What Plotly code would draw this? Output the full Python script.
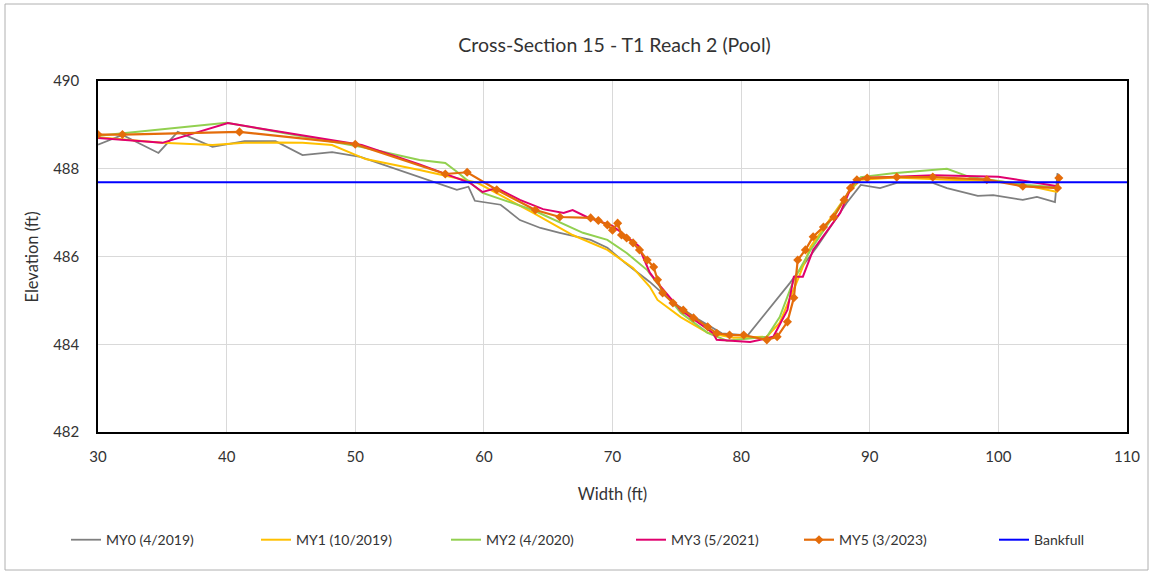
import plotly.graph_objects as go

# ---------------- data ----------------
my0_x = [30, 31.9, 34.7, 36.2, 38.9, 41.4, 43.8, 45.9, 48.2, 50.4, 57.9, 58.8, 59.3, 61.3, 62.8,
         64.4, 65.9, 68.3, 69.6, 71.0, 72.9, 74.5, 76.5, 78.5, 80.5, 83.8, 85.9, 88.2, 89.3, 90.8,
         92.1, 94.9, 96.0, 98.4, 99.6, 101.9, 103.0, 104.4, 104.6]
my0_y = [488.55, 488.77, 488.36, 488.84, 488.50, 488.63, 488.63, 488.31, 488.38, 488.27, 487.52, 487.59,
         487.27, 487.18, 486.83, 486.65, 486.54, 486.38, 486.20, 485.85, 485.42, 485.00, 484.60, 484.25,
         484.20, 485.40, 486.22, 487.22, 487.63, 487.56, 487.68, 487.68, 487.56, 487.38, 487.40, 487.29,
         487.36, 487.24, 487.90]

my1_x = [30, 35, 38.9, 41.4, 43.8, 45.9, 48.2, 50.8, 55, 59.5, 63.8, 66.9, 69.6, 71.6, 72.9, 73.5,
         75.3, 77.4, 79.4, 82.0, 83.0, 84.4, 85.4, 87.2, 88.5, 89.3, 92, 96, 100, 102.5, 104.6]
my1_y = [488.72, 488.59, 488.54, 488.59, 488.60, 488.59, 488.54, 488.22, 487.97, 487.68, 487.00, 486.49,
         486.15, 485.74, 485.31, 485.01, 484.62, 484.26, 484.15, 484.17, 484.49, 485.47, 486.22, 486.99,
         487.52, 487.75, 487.80, 487.75, 487.72, 487.60, 487.47]

my2_x = [30, 40, 50.4, 55, 57.0, 57.9, 59.9, 63.8, 67.7, 69.6, 71.1, 72.7, 73.7, 75.3, 77.4, 78.9,
         82.0, 83.0, 84.1, 85.4, 87.0, 88.5, 89.3, 91.8, 96.0, 97.8, 99.6, 102.2, 104.6]
my2_y = [488.75, 489.05, 488.50, 488.20, 488.13, 487.93, 487.45, 487.06, 486.54, 486.38, 486.08, 485.69,
         485.31, 484.72, 484.26, 484.08, 484.17, 484.62, 485.47, 486.15, 486.85, 487.52, 487.81, 487.90,
         488.00, 487.81, 487.74, 487.63, 487.58]

my3_x = [30, 35, 40.1, 50.5, 55, 58.9, 59.9, 61.0, 62.8, 64.6, 66.2, 66.9, 68.0, 70.0, 72.0, 72.9,
         73.5, 75.3, 77.8, 78.1, 80.7, 82.5, 83.6, 84.1, 84.8, 85.6, 87.7, 88.7, 89.5, 95, 100, 104.6]
my3_y = [488.70, 488.59, 489.04, 488.54, 488.10, 487.68, 487.47, 487.56, 487.29, 487.08, 486.99, 487.06,
         486.90, 486.70, 486.25, 485.63, 485.40, 484.78, 484.26, 484.10, 484.05, 484.17, 484.78, 485.54,
         485.54, 486.15, 486.99, 487.68, 487.79, 487.85, 487.82, 487.60]

my5_x = [30, 31.9, 41, 50, 57, 58.7, 61, 64, 65.9, 68.3, 68.9, 69.6, 70.0, 70.4, 70.7, 71.1, 71.6,
         72.1, 72.7, 73.2, 73.5, 73.9, 74.7, 75.5, 76.3, 77.4, 78.1, 79.1, 80.2, 82.0, 82.8, 83.6,
         84.1, 84.4, 85.0, 85.6, 86.4, 87.2, 88.0, 88.5, 89.0, 89.8, 92.1, 94.9, 99.1, 101.9, 104.6,
         104.7]
my5_y = [488.78, 488.78, 488.84, 488.56, 487.88, 487.92, 487.52, 487.06, 486.90, 486.88, 486.82, 486.72,
         486.60, 486.76, 486.49, 486.42, 486.31, 486.15, 485.92, 485.76, 485.47, 485.17, 484.94, 484.78,
         484.60, 484.40, 484.25, 484.21, 484.21, 484.10, 484.17, 484.51, 485.06, 485.92, 486.15, 486.45,
         486.67, 486.90, 487.29, 487.56, 487.75, 487.79, 487.81, 487.81, 487.75, 487.60, 487.56, 487.79]

bankfull_x = [30, 110]
bankfull_y = [487.69, 487.69]

names = ["MY0 (4/2019)", "MY1 (10/2019)", "MY2 (4/2020)", "MY3 (5/2021)", "MY5 (3/2023)", "Bankfull"]
colors = ["#7f7f7f", "#ffc000", "#92d050", "#e0006e", "#e46c0a", "#0000ff"]

x_ticks = [30, 40, 50, 60, 70, 80, 90, 100, 110]
y_ticks = [482, 484, 486, 488, 490]

FONT = "Lato, Open Sans, sans-serif"
W, H = 1153, 573

# one legend per entry so that each entry sits where the reference puts it
legend_ids = ["legend", "legend2", "legend3", "legend4", "legend5", "legend6"]
legend_px = [66, 256, 446, 631, 799, 994]

fig = go.Figure()
series = [(my0_x, my0_y), (my1_x, my1_y), (my2_x, my2_y), (my3_x, my3_y)]
widths = [1.8, 2, 2, 2]
for i, ((xs, ys), n, c, w) in enumerate(zip(series, names[:4], colors[:4], widths)):
    fig.add_trace(go.Scatter(x=xs, y=ys, name=n, mode="lines", legend=legend_ids[i],
                             line=dict(color=c, width=w)))
fig.add_trace(go.Scatter(x=my5_x, y=my5_y, name=names[4], mode="lines+markers", legend=legend_ids[4],
                         line=dict(color=colors[4], width=2.2),
                         marker=dict(symbol="diamond", size=7, color=colors[4])))
fig.add_trace(go.Scatter(x=bankfull_x, y=bankfull_y, name=names[5], mode="lines", legend=legend_ids[5],
                         line=dict(color=colors[5], width=2)))

legend_common = dict(orientation="h", xref="container", xanchor="left",
                     y=-0.308, yanchor="middle", font=dict(size=14, color="#333333"),
                     itemwidth=30, bgcolor="rgba(0,0,0,0)")
legend_layout = {lid: dict(legend_common, x=px / W) for lid, px in zip(legend_ids, legend_px)}

fig.update_layout(
    width=W, height=H,
    margin=dict(l=98, r=26, t=81, b=141, autoexpand=False),
    paper_bgcolor="white", plot_bgcolor="white",
    font=dict(family=FONT, size=15, color="#333333"),
    title=dict(text="Cross-Section 15 - T1 Reach 2 (Pool)", x=0.533, xanchor="center",
               y=0.921, yanchor="middle", font=dict(size=19.5, color="#333333")),
    showlegend=True,
    xaxis=dict(range=[30, 110], tickvals=x_ticks, showgrid=True, gridcolor="#d9d9d9",
               showline=True, linecolor="black", linewidth=1.5, mirror=True, zeroline=False,
               ticks="", ticklabelstandoff=10,
               title=dict(text="Width (ft)", font=dict(size=16.5), standoff=25)),
    yaxis=dict(range=[482, 490], tickvals=y_ticks, showgrid=True, gridcolor="#d9d9d9",
               showline=True, linecolor="black", linewidth=1.5, mirror=True, zeroline=False,
               ticks="", ticklabelstandoff=14),
    **legend_layout,
)

fig.add_annotation(text="Elevation (ft)", xref="paper", yref="paper",
                   x=(32 - 98) / 1029, y=0.497, textangle=-90, showarrow=False,
                   xanchor="center", yanchor="middle", font=dict(size=16.5, color="#333333"))

# thin outer frame of the chart
fig.add_shape(type="rect", xref="paper", yref="paper",
              x0=(5 - 98) / 1029, x1=(1148 - 98) / 1029,
              y0=(432 - 570) / 351, y1=(432 - 4) / 351,
              line=dict(color="#b0b0b0", width=1), layer="below")

fig.write_html("out.html")
